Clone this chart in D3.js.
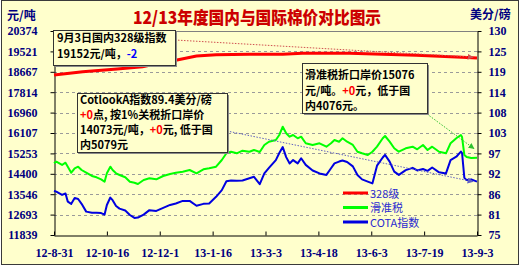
<!DOCTYPE html>
<html><head><meta charset="utf-8">
<script src="https://cdn.jsdelivr.net/npm/d3@7"></script>
<style>body{margin:0;background:#fff}svg{display:block}</style>
</head><body><svg id="c" width="521" height="269"></svg>
<script>
// ---- data ----
const dates = ["2012-08-31","2012-09-02","2012-09-07","2012-09-10","2012-09-12","2012-09-15","2012-09-18","2012-09-21","2012-09-24","2012-09-28",
"2012-10-03","2012-10-07","2012-10-11","2012-10-14","2012-10-16","2012-10-19","2012-10-21","2012-10-24","2012-10-27","2012-11-01",
"2012-11-05","2012-11-09","2012-11-12","2012-11-17","2012-11-22","2012-11-28","2012-12-04","2012-12-10","2012-12-15","2012-12-21",
"2012-12-27","2013-01-02","2013-01-08","2013-01-13","2013-01-19","2013-01-24","2013-01-28","2013-02-01","2013-02-06","2013-02-11",
"2013-02-17","2013-02-21","2013-02-26","2013-03-02","2013-03-06","2013-03-12","2013-03-15","2013-03-18","2013-03-21","2013-03-24",
"2013-03-27","2013-03-31","2013-04-03","2013-04-07","2013-04-13","2013-04-19","2013-04-25","2013-04-29","2013-05-02","2013-05-06",
"2013-05-09","2013-05-13","2013-05-18","2013-05-22","2013-05-26","2013-05-31","2013-06-04","2013-06-08","2013-06-13","2013-06-15",
"2013-06-19","2013-06-23","2013-06-27","2013-07-03","2013-07-09","2013-07-13","2013-07-18","2013-07-22","2013-07-26","2013-08-01",
"2013-08-07","2013-08-11","2013-08-16","2013-08-20","2013-08-21","2013-08-23","2013-08-25","2013-08-29","2013-09-03"];
// 滑准税 (元/吨, left axis)
const huaZhunShui = [14839,14906,14768,14864,14697,14446,14630,14697,14559,14446,
14308,14253,14169,14069,14421,14697,14559,14421,14349,14253,
14069,14027,13973,14140,14211,14169,14308,14391,14446,14487,
14559,14421,14588,14630,14697,14977,15257,15324,15257,15366,
15324,15395,15312,15605,15743,15814,16023,16370,16094,15952,
16023,15885,15952,15676,15605,15676,15534,15676,15814,15743,
15885,15743,15605,15324,15257,15186,15324,15534,15885,15981,
15743,15467,15324,15467,15534,15425,15605,15395,15534,15324,
15257,15676,15885,16023,15939,15186,15103,15061,15076];
// COTA指数 (美分/磅, right axis)
const cotlookA = [86.9,86.7,85.8,86.2,84.0,83.4,85.0,84.7,83.4,81.3,
81.0,81.0,80.9,80.5,83.1,85.1,84.4,82.8,82.1,81.6,
80.4,79.6,79.7,80.5,81.7,81.5,82.3,83.1,83.5,84.2,
84.2,82.9,83.4,83.5,85.3,87.1,89.5,89.7,89.6,89.7,
90.3,90.7,88.7,91.6,93.1,95.2,97.1,98.7,96.0,94.3,
95.2,94.3,95.7,93.9,92.4,91.6,91.2,93.0,94.3,94.8,
95.1,94.7,93.5,91.2,90.0,89.4,88.9,93.7,95.9,96.6,
94.8,92.1,91.2,92.5,93.1,92.4,92.8,92.3,93.2,91.9,
91.6,95.2,96.1,97.5,97.1,90.4,89.8,90.0,89.4];
// 328级 (元/吨, left axis)
const grade328Dates = ["2012-08-31","2012-09-25","2012-10-25","2012-11-16","2012-12-01","2012-12-16","2013-01-02","2013-01-19",
"2013-02-17","2013-03-18","2013-04-04","2013-05-15","2013-06-13","2013-07-12","2013-08-21","2013-09-03"];
const grade328 = [18533,18672,18784,18881,19035,19161,19328,19383,19400,19400,19441,19441,19400,19358,19274,19240];

const leftTicks = [11839,12692.5,13546,14399.5,15253,16106.5,16960,17813.5,18667,19520.5,20374];
const rightTicks = [75,80.5,86,91.5,97,102.5,108,113.5,119,124.5,130];
const xTickLabels = ["12-8-31","12-10-16","12-12-1","13-1-16","13-3-3","13-4-18","13-6-3","13-7-19","13-9-3"];
const seriesNames = ["328级","滑准税","COTA指数"];
const seriesColors = ["#FF0000","#00FF00","#0000E0"];
const titleText = "12/13年度国内与国际棉价对比图示";
const leftUnit = "元/吨", rightUnit = "美分/磅";
const note1 = [[["9月3日国内328级指数","#000"]],[["19152元/吨，","#000"],["-2","#0000FF"]]];
const note2 = [[["CotlookA指数89.4美分/磅","#000"]],[["+0","#FF0000"],["点, 按1%关税折口岸价","#000"]],
  [["14073元/吨，","#000"],["+0","#FF0000"],["元, 低于国","#000"]],[["内5079元","#000"]]];
const note3 = [[["滑准税折口岸价15076","#000"]],[["元/吨。","#000"],["+0","#FF0000"],["元，低于国","#000"]],[["内4076元。","#000"]]];

// ---- chart ----
const svg = d3.select("#c");
const P = {l:54, r:477, t:31, b:235};
const parseD = d3.timeParse("%Y-%m-%d");
const parseT = d3.timeParse("%y-%m-%d");
const x = d3.scaleTime().domain([parseT(xTickLabels[0]), parseT(xTickLabels[xTickLabels.length-1])]).range([P.l,P.r]);
const yL = d3.scaleLinear().domain([leftTicks[0], leftTicks[leftTicks.length-1]]).range([P.b,P.t]);
const yR = d3.scaleLinear().domain([rightTicks[0], rightTicks[rightTicks.length-1]]).range([P.b,P.t]);
const navy = "#000080";
const cjk = "'Noto Sans CJK SC','Noto Sans',sans-serif";

svg.append("rect").attr("x",1.5).attr("y",0.5).attr("width",517).attr("height",264)
  .attr("fill","#FFFFCC").attr("stroke","#3a3a3a");

// gridlines
svg.append("g").selectAll("line").data(leftTicks.slice(1,-1)).join("line")
  .attr("x1",P.l).attr("x2",P.r).attr("y1",d=>Math.round(yL(d))+0.5).attr("y2",d=>Math.round(yL(d))+0.5)
  .attr("stroke","#9a9a9a").attr("stroke-dasharray","3,3");
svg.append("line").attr("x1",P.l).attr("x2",P.r).attr("y1",P.t+0.5).attr("y2",P.t+0.5).attr("stroke","#808080");

function styleAxis(g){
  g.selectAll("text").attr("font-family","'Liberation Serif','Times New Roman',serif")
   .attr("font-weight","bold").attr("font-size",12).attr("fill",navy);
  g.selectAll("line,path").attr("stroke","#000");
}
svg.append("g").attr("transform",`translate(${P.l+0.5},0)`)
  .call(d3.axisLeft(yL).tickValues(leftTicks).tickFormat(d3.format(".0f")).tickSizeInner(4).tickSizeOuter(0).tickPadding(13))
  .call(styleAxis);
svg.append("g").attr("transform",`translate(${P.r+0.5},0)`)
  .call(d3.axisRight(yR).tickValues(rightTicks).tickFormat(d3.format(".0f")).tickSizeInner(4).tickSizeOuter(0).tickPadding(7))
  .call(styleAxis);
svg.append("g").attr("transform",`translate(0,${P.b+0.5})`)
  .call(d3.axisBottom(x).tickValues(xTickLabels.map(parseT)).tickFormat((d,i)=>xTickLabels[i]).tickSizeInner(-4).tickSizeOuter(0).tickPadding(13))
  .call(styleAxis);

// series
const dD = dates.map(parseD);
const lineL = d3.line().x(d=>x(d[0])).y(d=>yL(d[1]));
const lineR = d3.line().x(d=>x(d[0])).y(d=>yR(d[1]));
svg.append("path").datum(dD.map((d,i)=>[d,huaZhunShui[i]])).attr("d",lineL)
  .attr("fill","none").attr("stroke",seriesColors[1]).attr("stroke-width",2).attr("stroke-linejoin","round");
svg.append("path").datum(dD.map((d,i)=>[d,cotlookA[i]])).attr("d",lineR)
  .attr("fill","none").attr("stroke",seriesColors[2]).attr("stroke-width",2).attr("stroke-linejoin","round");
svg.append("path").datum(grade328Dates.map((d,i)=>[parseD(d),grade328[i]])).attr("d",lineL)
  .attr("fill","none").attr("stroke",seriesColors[0]).attr("stroke-width",3).attr("stroke-linejoin","round");

// title & units
svg.append("text").attr("x",257).attr("y",24).attr("text-anchor","middle")
  .attr("font-family",cjk).attr("font-weight",900).attr("font-size",17).attr("fill","#CC0000")
  .attr("textLength",248).attr("lengthAdjust","spacingAndGlyphs").text(titleText);
svg.append("text").attr("x",7).attr("y",20).attr("font-family",cjk).attr("font-weight","bold")
  .attr("font-size",12).attr("fill",navy).text(leftUnit);
svg.append("text").attr("x",470).attr("y",19).attr("font-family",cjk).attr("font-weight","bold")
  .attr("font-size",12).attr("fill",navy).text(rightUnit);

// legend
const lg = svg.append("g");
const legY = [193,207.5,222];
seriesNames.forEach((n,i)=>{
  lg.append("line").attr("x1",343).attr("x2",368).attr("y1",legY[i]).attr("y2",legY[i])
    .attr("stroke",seriesColors[i]).attr("stroke-width",3);
  lg.append("text").attr("x",370).attr("y",legY[i]+4.5).attr("font-family",cjk).attr("font-size",11)
    .attr("fill","#2a2ad0").text(n);
});

// arrow markers
const defs = svg.append("defs");
[["ar","#d05050"],["ab","#6060c0"],["ag","#30c030"]].forEach(([id,c])=>{
  defs.append("marker").attr("id",id).attr("viewBox","0 0 10 10").attr("refX",9).attr("refY",5)
    .attr("markerWidth",6).attr("markerHeight",6).attr("orient","auto")
    .append("path").attr("d","M0,0L10,5L0,10z").attr("fill",c);
});
function pointer(x1,y1,x2,y2,c,m){
  svg.append("line").attr("x1",x1).attr("y1",y1).attr("x2",x2).attr("y2",y2)
    .attr("stroke",c).attr("stroke-width",1).attr("stroke-dasharray","1.5,1.5").attr("marker-end",`url(#${m})`);
}
const lastD = dD[dD.length-1];
pointer(175,40,x(parseD(grade328Dates[grade328Dates.length-1]))-4,yL(grade328[grade328.length-1])-1,"#d05050","ar");
pointer(227,131,x(lastD)-4,yR(cotlookA[cotlookA.length-1]),"#6060c0","ab");
pointer(427,114,x(lastD)-3,yL(huaZhunShui[huaZhunShui.length-1])-9,"#30c030","ag");

function note(bx,by,bw,bh,lines,tx,ty,lh){
  const g = svg.append("g");
  g.append("rect").attr("x",bx+2).attr("y",by+2).attr("width",bw).attr("height",bh).attr("fill","#8a8a8a");
  g.append("rect").attr("x",bx+0.5).attr("y",by+0.5).attr("width",bw).attr("height",bh)
    .attr("fill","#FFFFCC").attr("stroke","#333").attr("stroke-width",1);
  lines.forEach((ln,i)=>{
    const t = g.append("text").attr("x",tx).attr("y",ty+i*lh).attr("font-family",cjk)
      .attr("font-weight","bold").attr("font-size",11);
    ln.forEach(([s,c])=>t.append("tspan").attr("fill",c).text(s));
  });
}
note(53,30,122,35,note1,57,42,16);
note(77,93,150,59,note2,80,104,15);
note(302,63,125,50,note3,305,79,15.5);
</script></body></html>
